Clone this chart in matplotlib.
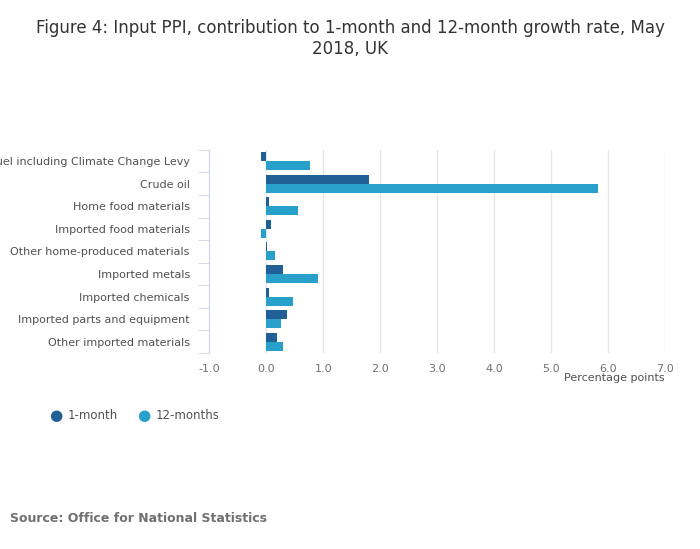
import matplotlib
matplotlib.use("Agg")
import matplotlib.pyplot as plt
import numpy as np

categories = ["Fuel including Climate Change Levy", "Crude oil", "Home food materials",
              "Imported food materials", "Other home-produced materials", "Imported metals",
              "Imported chemicals", "Imported parts and equipment", "Other imported materials"]
one_month = [-0.09, 1.80, 0.05, 0.09, 0.02, 0.30, 0.05, 0.37, 0.18]
twelve_months = [0.77, 5.83, 0.56, -0.09, 0.16, 0.91, 0.47, 0.26, 0.30]
xticks = [-1.0, 0.0, 1.0, 2.0, 3.0, 4.0, 5.0, 6.0, 7.0]

c1, c2 = "#206095", "#27a0cc"
fig = plt.figure(figsize=(7, 5.49), dpi=100)
ax = fig.add_axes([0.299, 0.357, 0.651, 0.370])
n = len(categories)
y = np.arange(n)
h = 0.4
ax.barh(y - h/2, one_month, height=h, color=c1, zorder=3)
ax.barh(y + h/2, twelve_months, height=h, color=c2, zorder=3)
ax.set_ylim(n - 0.5, -0.5)
ax.set_xlim(-1, 7)
ax.set_xticks(xticks)
ax.set_xticklabels([f"{v:.1f}" for v in xticks], fontsize=8, color="#707070")
ax.set_yticks(y)
ax.set_yticklabels(categories, fontsize=8, color="#505050")
ax.set_yticks(np.arange(n + 1) - 0.5, minor=True)
ax.tick_params(axis="y", which="major", length=0, pad=14)
ax.tick_params(axis="y", which="minor", length=8, color="#ccd6eb")
ax.tick_params(axis="x", length=0, pad=8)
ax.grid(axis="x", color="#e6e6e6", lw=1, zorder=0)
for s in ["top", "right", "bottom"]:
    ax.spines[s].set_visible(False)
ax.spines["left"].set_color("#ccd6eb")
ax.text(1.0, -0.14, "Percentage points", transform=ax.transAxes, ha="right",
        fontsize=8, color="#505050")
fig.text(0.5, 0.965, "Figure 4: Input PPI, contribution to 1-month and 12-month growth rate, May\n2018, UK",
         ha="center", va="top", fontsize=12, color="#333333")
fig.text(0.08, 0.243, "●", color=c1, fontsize=11, ha="center", va="center")
fig.text(0.097, 0.243, "1-month", va="center", fontsize=8.5, color="#505050")
fig.text(0.205, 0.243, "●", color=c2, fontsize=11, ha="center", va="center")
fig.text(0.222, 0.243, "12-months", va="center", fontsize=8.5, color="#505050")
fig.text(0.014, 0.049, "Source: Office for National Statistics", fontsize=9,
         fontweight="bold", color="#707070")
fig.savefig("out.png", dpi=100)
